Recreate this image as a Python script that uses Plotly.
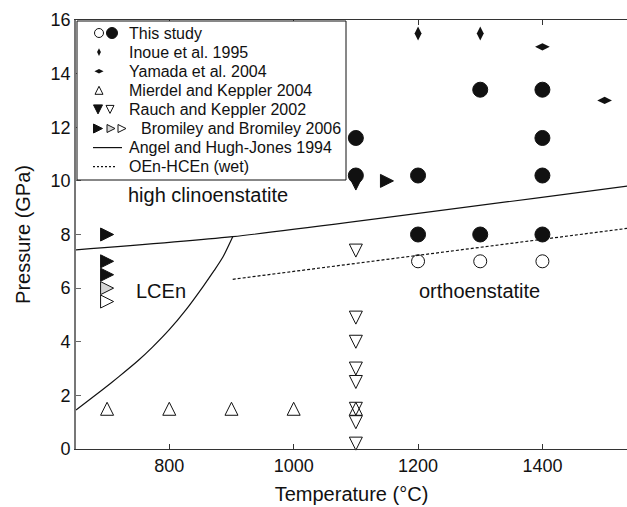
import plotly.graph_objects as go

# ---------------- data: temperature (°C) / pressure (GPa) ----------------
# This study
study_filled_T = [1100, 1100, 1200, 1200, 1300, 1300, 1400, 1400, 1400, 1400]
study_filled_P = [11.6, 10.2, 10.2, 8.0, 13.4, 8.0, 13.4, 11.6, 10.2, 8.0]
study_open_T = [1200, 1300, 1400]
study_open_P = [7.0, 7.0, 7.0]

# Inoue et al. 1995
inoue_T = [1200, 1300]
inoue_P = [15.5, 15.5]

# Yamada et al. 2004
yamada_T = [1400, 1500]
yamada_P = [15.0, 13.0]

# Mierdel and Keppler 2004
mierdel_T = [700, 800, 900, 1000, 1100]
mierdel_P = [1.5, 1.5, 1.5, 1.5, 1.5]

# Rauch and Keppler 2002
rauch_filled_T = [1100]
rauch_filled_P = [9.9]
rauch_open_T = [1100, 1100, 1100, 1100, 1100, 1100, 1100, 1100]
rauch_open_P = [7.4, 4.9, 4.0, 3.0, 2.5, 1.5, 1.0, 0.2]

# Bromiley and Bromiley 2006
bromiley_filled_T = [700, 700, 700, 1150]
bromiley_filled_P = [8.0, 7.0, 6.5, 10.0]
bromiley_grey_T = [700]
bromiley_grey_P = [6.0]
bromiley_open_T = [700]
bromiley_open_P = [5.5]

# Angel and Hugh-Jones 1994 phase boundaries
angel_lcen_T = [650, 692, 719, 750, 773, 800, 827, 854, 872, 886, 902]
angel_lcen_P = [1.45, 2.2, 2.7, 3.3, 3.8, 4.45, 5.2, 6.05, 6.65, 7.15, 7.92]
angel_hcen_T = [650, 902, 1540]
angel_hcen_P = [7.43, 7.92, 9.82]

# OEn-HCEn (wet)
wet_T = [902, 1540]
wet_P = [6.33, 8.24]

x_ticks = [800, 1000, 1200, 1400]
y_ticks = [0, 2, 4, 6, 8, 10, 12, 14, 16]

legend_labels = [
    "This study",
    "Inoue et al. 1995",
    "Yamada et al. 2004",
    "Mierdel and Keppler 2004",
    "Rauch and Keppler 2002",
    "Bromiley and Bromiley 2006",
    "Angel and Hugh-Jones 1994",
    "OEn-HCEn (wet)",
]

# ---------------- styling ----------------
FONT = "Liberation Sans, Arial, Helvetica, sans-serif"
INK = "#111111"
GREY = "#d6d6d6"
NONE = "rgba(0,0,0,0)"

W, H = 627, 507
ML, MR, MT, MB = 76, 0, 20, 58


def tri(direction, size, fill, lw=1.0):
    """Centered isosceles triangle (base == height) built from the arrow glyph."""
    angle = {"down": 0, "up": 180, "right": -90}[direction]
    return dict(symbol="arrow-down", angle=angle, standoff=size / 2.0, size=size,
                color=fill, line=dict(color=INK, width=lw))


def circ(size, fill, lw=1.0):
    return dict(symbol="circle", size=size, color=fill, line=dict(color=INK, width=lw))


fig = go.Figure()


def pts(x, y, marker, xa="x", ya="y"):
    fig.add_trace(go.Scatter(x=x, y=y, mode="markers", marker=marker,
                             xaxis=xa, yaxis=ya, showlegend=False, hoverinfo="skip",
                             cliponaxis=False))


def line(x, y, dash="solid", xa="x", ya="y"):
    fig.add_trace(go.Scatter(x=x, y=y, mode="lines",
                             line=dict(color=INK, width=1.2, dash=dash, shape="spline",
                                       smoothing=0.6),
                             xaxis=xa, yaxis=ya, showlegend=False, hoverinfo="skip"))


# phase boundaries
line(angel_lcen_T, angel_lcen_P)
line(angel_hcen_T, angel_hcen_P)
line(wet_T, wet_P, dash="3px,2px")

# experiments
pts(mierdel_T, mierdel_P, tri("up", 13, NONE))
pts(rauch_open_T, rauch_open_P, tri("down", 13, NONE))
pts(rauch_filled_T, rauch_filled_P, tri("down", 13, INK))
pts(bromiley_filled_T, bromiley_filled_P, tri("right", 13, INK))
pts(bromiley_grey_T, bromiley_grey_P, tri("right", 13, GREY))
pts(bromiley_open_T, bromiley_open_P, tri("right", 13, "white"))
pts(study_open_T, study_open_P, circ(13, NONE))
pts(study_filled_T, study_filled_P, circ(15, INK))
pts(inoue_T, inoue_P, dict(symbol="diamond-tall", size=10, color=INK, line=dict(width=0)))
pts(yamada_T, yamada_P, dict(symbol="diamond-wide", size=10.5, color=INK, line=dict(width=0)))

# ---------------- legend (drawn on a pixel-unit overlay subplot) ----------------
BOX = dict(x0=77, x1=346, y0=21, y1=180)
ROW0, ROW_STEP = 33, 19.1
COL = [99, 111, 123]
TXT_X = 127
rows = [ROW0 + ROW_STEP * i for i in range(len(legend_labels))]

fig.add_shape(type="rect", xref="x2", yref="y2", layer="below",
              fillcolor="white", line=dict(color=INK, width=1), **BOX)

pts([COL[0]], [rows[0]], circ(9, NONE), "x2", "y2")
pts([COL[1] + 1], [rows[0]], circ(11, INK), "x2", "y2")
pts([COL[0]], [rows[1]], dict(symbol="diamond-tall", size=5.5, color=INK, line=dict(width=0)), "x2", "y2")
pts([COL[0]], [rows[2]], dict(symbol="diamond-wide", size=6.5, color=INK, line=dict(width=0)), "x2", "y2")
pts([COL[0]], [rows[3]], tri("up", 8, NONE), "x2", "y2")
pts([COL[0] - 1], [rows[4]], tri("down", 9, INK), "x2", "y2")
pts([COL[1] - 1], [rows[4]], tri("down", 8, NONE), "x2", "y2")
pts([COL[0] - 1], [rows[5]], tri("right", 9, INK), "x2", "y2")
pts([COL[1]], [rows[5]], tri("right", 8, GREY), "x2", "y2")
pts([COL[2] - 1], [rows[5]], tri("right", 8, "white"), "x2", "y2")
line([93, 122], [rows[6], rows[6]], "solid", "x2", "y2")
line([93, 117], [rows[7], rows[7]], "2px,2px", "x2", "y2")

for i, lab in enumerate(legend_labels):
    fig.add_annotation(x=TXT_X + (12 if i == 5 else 0), y=rows[i], xref="x2", yref="y2",
                       text=lab, showarrow=False, xanchor="left", yanchor="middle",
                       font=dict(family=FONT, size=16, color=INK))

# ---------------- field labels ----------------
for txt, tx, ty in [("high clinoenstatite", 863, 9.48),
                    ("LCEn", 787, 5.9),
                    ("orthoenstatite", 1299, 5.91)]:
    fig.add_annotation(x=tx, y=ty, xref="x", yref="y", text=txt, showarrow=False,
                       font=dict(family=FONT, size=20, color=INK))

# ---------------- axes & layout ----------------
fig.update_layout(
    width=W, height=H,
    margin=dict(l=ML, r=MR, t=MT, b=MB, pad=0),
    paper_bgcolor="white", plot_bgcolor=NONE,
    font=dict(family=FONT, color=INK),
    showlegend=False,
    xaxis=dict(range=[650, 1536], tickvals=x_ticks, ticks="inside", ticklen=5,
               tickcolor="#333", showline=True, linecolor="#333", linewidth=1.2,
               mirror="ticks", showgrid=False, zeroline=False,
               tickfont=dict(size=18, family=FONT, color=INK),
               title=dict(text="Temperature (°C)", font=dict(size=20, family=FONT, color=INK),
                          standoff=12)),
    yaxis=dict(range=[0, 16], tickvals=y_ticks, ticks="inside", ticklen=5,
               tickcolor="#666", showline=True, linecolor="#777", linewidth=1.6,
               showgrid=False, zeroline=False,
               tickfont=dict(size=18, family=FONT, color=INK),
               title=dict(text="Pressure (GPa)", font=dict(size=20, family=FONT, color=INK),
                          standoff=15)),
    xaxis2=dict(domain=[0, 1], range=[ML, W - MR], visible=False, anchor="y2", fixedrange=True),
    yaxis2=dict(domain=[0, 1], range=[H - MB, MT], visible=False, anchor="x2", fixedrange=True),
)

fig.write_html("out.html")
